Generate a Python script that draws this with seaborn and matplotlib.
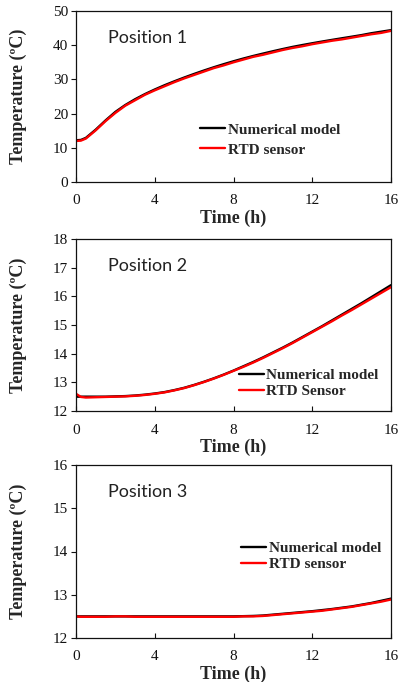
import numpy as np
import pandas as pd
import matplotlib
matplotlib.use("Agg")
import matplotlib.pyplot as plt
import seaborn as sns

sns.set_style("ticks")
plt.rcParams["font.family"] = ["Liberation Serif", "DejaVu Serif"]

# Time axis (h)
time_h = [0, 0.25, 0.5, 1.0, 1.5, 2.0, 2.5, 3.0, 3.5, 4.0, 4.5, 5.0, 5.5, 6.0,
          6.5, 7.0, 7.5, 8.0, 8.5, 9.0, 9.5, 10.0, 10.5, 11.0, 11.5, 12.0,
          12.5, 13.0, 13.5, 14.0, 14.5, 15.0, 15.5, 16.0]

# Position 1
p1_model = [12.2, 12.3, 12.9, 15.3, 18.0, 20.5, 22.5, 24.2, 25.7, 27.05, 28.3,
            29.45, 30.55, 31.6, 32.6, 33.55, 34.45, 35.3, 36.1, 36.85, 37.55,
            38.23, 38.88, 39.5, 40.05, 40.57, 41.07, 41.55, 42.02, 42.48,
            42.95, 43.5, 43.95, 44.4]
p1_sensor = [12.0, 12.1, 12.7, 15.1, 17.8, 20.2, 22.3, 23.9, 25.5, 26.8, 28.0,
             29.2, 30.3, 31.3, 32.3, 33.3, 34.1, 35.0, 35.8, 36.6, 37.2, 37.9,
             38.6, 39.2, 39.7, 40.3, 40.8, 41.3, 41.7, 42.2, 42.7, 43.2, 43.6,
             44.2]

# Position 2
p2_model = [12.5, 12.5, 12.5, 12.5, 12.5, 12.51, 12.52, 12.54, 12.57, 12.61,
            12.66, 12.73, 12.81, 12.91, 13.02, 13.14, 13.27, 13.41, 13.56,
            13.71, 13.87, 14.04, 14.21, 14.39, 14.58, 14.77, 14.96, 15.16,
            15.36, 15.56, 15.76, 15.97, 16.18, 16.39]
p2_sensor = [12.6, 12.49, 12.47, 12.48, 12.49, 12.5, 12.51, 12.53, 12.56, 12.6,
             12.65, 12.72, 12.8, 12.9, 13.01, 13.13, 13.26, 13.4, 13.54, 13.69,
             13.85, 14.02, 14.19, 14.37, 14.56, 14.75, 14.94, 15.13, 15.33,
             15.52, 15.72, 15.92, 16.12, 16.32]

# Position 3
p3_model = [12.5, 12.5, 12.5, 12.5, 12.5, 12.5, 12.5, 12.5, 12.5, 12.5, 12.5,
            12.5, 12.5, 12.5, 12.5, 12.5, 12.5, 12.5, 12.505, 12.51, 12.52,
            12.54, 12.56, 12.58, 12.6, 12.62, 12.645, 12.67, 12.7, 12.73,
            12.77, 12.81, 12.86, 12.91]
p3_sensor = [12.5, 12.49, 12.49, 12.49, 12.49, 12.5, 12.5, 12.49, 12.49, 12.49,
             12.49, 12.49, 12.49, 12.49, 12.49, 12.49, 12.49, 12.49, 12.5,
             12.5, 12.51, 12.53, 12.55, 12.57, 12.59, 12.61, 12.63, 12.66,
             12.69, 12.72, 12.76, 12.8, 12.84, 12.89]

panels = [
    ("Position 1", p1_model, p1_sensor, "RTD sensor", (0, 50), [0, 10, 20, 30, 40, 50]),
    ("Position 2", p2_model, p2_sensor, "RTD Sensor", (12, 18), [12, 13, 14, 15, 16, 17, 18]),
    ("Position 3", p3_model, p3_sensor, "RTD sensor", (12, 16), [12, 13, 14, 15, 16]),
]
x_ticks = [0, 4, 8, 12, 16]

W, H = 400, 682
fig = plt.figure(figsize=(W / 100, H / 100), dpi=100)
fig.patch.set_facecolor("white")

# axes boxes in pixels: (left, top, right, bottom)
boxes = [(76, 11, 391, 182), (76, 239, 391, 411), (76, 465, 391, 638)]
# legend placement (axes fraction) and row spacing per panel
legend_anchor = [(0.394, 0.346), (0.517, 0.247), (0.524, 0.557)]
legend_spacing = [0.43, 0.14, 0.14]

for (title, model, sensor, sensor_label, ylim, yticks), box, anc, sp in zip(
        panels, boxes, legend_anchor, legend_spacing):
    l, t, r, b = box
    ax = fig.add_axes([l / W, 1 - b / H, (r - l) / W, (b - t) / H])
    df = pd.DataFrame({
        "Time": time_h * 2,
        "Temperature": model + sensor,
        "Series": ["Numerical model"] * len(time_h) + [sensor_label] * len(time_h),
    })
    sns.lineplot(data=df, x="Time", y="Temperature", hue="Series",
                 palette={"Numerical model": "#000000", sensor_label: "#ff0000"},
                 linewidth=1.7, ax=ax, legend=True)
    ax.set_xlim(0, 16)
    ax.set_ylim(*ylim)
    ax.set_xticks(x_ticks)
    ax.set_yticks(yticks)
    ax.tick_params(axis="x", direction="in", length=3.4, width=0.8, pad=9,
                   labelsize=11, colors="#111111")
    ax.tick_params(axis="y", direction="out", length=3.6, width=0.8, pad=2,
                   labelsize=11, colors="#111111")
    for s in ax.spines.values():
        s.set_visible(True)
        s.set_linewidth(0.9)
        s.set_color("#111111")
    ax.set_xlabel("Time (h)", fontsize=13, fontweight="bold")
    ax.set_ylabel("Temperature (ºC)", fontsize=13, fontweight="bold")
    ax.xaxis.set_label_coords(0.5, -36 / (b - t))
    ax.xaxis.label.set_va("center")
    ax.yaxis.set_label_coords(-(l - 18.5) / (r - l), 0.5)
    ax.yaxis.label.set_va("center")
    ax.text(0.1016, 0.815, title, transform=ax.transAxes, fontsize=13,
            family=["Lato", "DejaVu Sans"], color="#222222", va="baseline", ha="left")
    leg = ax.legend(loc="upper left", bbox_to_anchor=anc, frameon=False,
                    prop={"family": "Liberation Serif", "weight": "bold", "size": 11},
                    handlelength=1.65, handletextpad=0.15, labelspacing=sp,
                    borderpad=0, borderaxespad=0)
    for ln in leg.get_lines():
        ln.set_linewidth(1.7)

fig.savefig("out.png", dpi=100, facecolor="white")
